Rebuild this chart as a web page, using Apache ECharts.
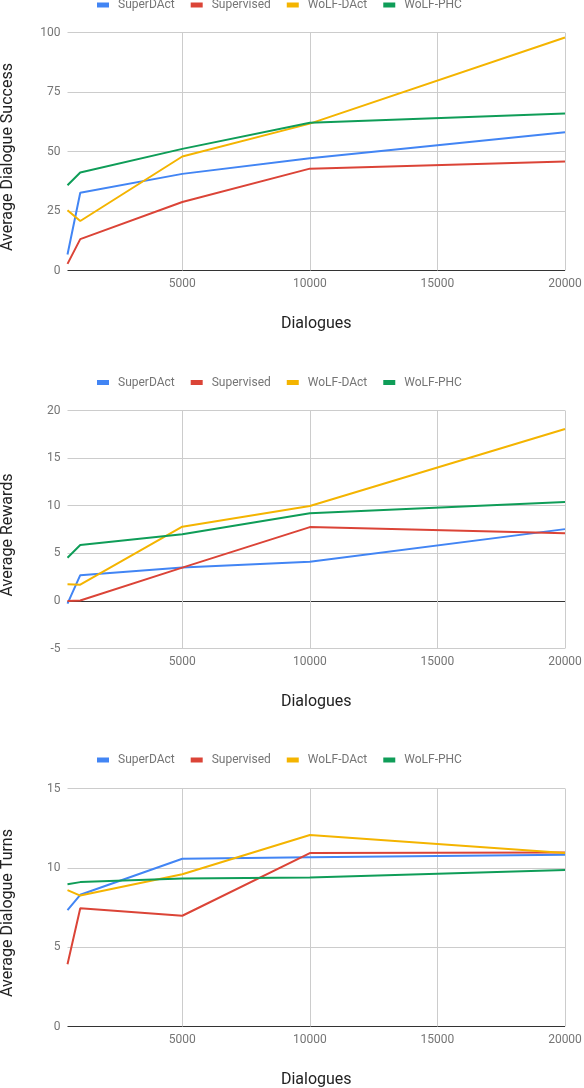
<!DOCTYPE html>
<html>
<head>
<meta charset="utf-8">
<script src="https://cdn.jsdelivr.net/npm/echarts@6/dist/echarts.min.js"></script>
<style>
  html, body { margin: 0; padding: 0; background: #fff; }
  #chart { width: 584px; height: 1088px; }
</style>
</head>
<body>
<div id="chart"></div>
<script>
// x values (number of dialogues)
var dialogues = [500, 1000, 5000, 10000, 20000];
var methods = ['SuperDAct', 'Supervised', 'WoLF-DAct', 'WoLF-PHC'];

// Average Dialogue Success
var successSuperDAct  = [6.7, 32.7, 40.6, 47.2, 58.1];
var successSupervised = [2.8, 13.2, 28.8, 42.8, 45.8];
var successWolfDAct   = [25.3, 20.8, 47.9, 61.7, 97.9];
var successWolfPHC    = [35.8, 41.2, 51.1, 62.1, 66.0];

// Average Rewards
var rewardsSuperDAct  = [-0.28, 2.7, 3.52, 4.12, 7.54];
var rewardsSupervised = [0, 0.05, 3.5, 7.75, 7.1];
var rewardsWolfDAct   = [1.76, 1.7, 7.8, 9.96, 18.06];
var rewardsWolfPHC    = [4.54, 5.88, 7.0, 9.2, 10.39];

// Average Dialogue Turns
var turnsSuperDAct  = [7.34, 8.3, 10.57, 10.67, 10.82];
var turnsSupervised = [3.92, 7.45, 6.98, 10.93, 10.97];
var turnsWolfDAct   = [8.6, 8.25, 9.6, 12.07, 10.93];
var turnsWolfPHC    = [8.97, 9.1, 9.32, 9.39, 9.87];

var colors = ['#4285f4', '#db4437', '#f4b400', '#0f9d58'];
var font = 'Roboto, sans-serif';

var panels = [
  { title: 'Average Dialogue Success', min: 0, max: 100, interval: 25,
    data: [successSuperDAct, successSupervised, successWolfDAct, successWolfPHC] },
  { title: 'Average Rewards', min: -5, max: 20, interval: 5,
    data: [rewardsSuperDAct, rewardsSupervised, rewardsWolfDAct, rewardsWolfPHC] },
  { title: 'Average Dialogue Turns', min: 0, max: 15, interval: 5,
    data: [turnsSuperDAct, turnsSupervised, turnsWolfDAct, turnsWolfPHC] }
];

var gridTops = [32.5, 410.5, 788.5];
var legendTops = [-1, 376.5, 754];

function pairs(xs, ys) {
  var out = [];
  for (var i = 0; i < xs.length; i++) out.push([xs[i], ys[i]]);
  return out;
}

// x ticks every 500 from 500; only every 10th one (5000, 10000...) gets a line
var xLineColors = [];
for (var k = 0; k < 10; k++) xLineColors.push(k === 9 ? '#cccccc' : 'rgba(0,0,0,0)');

var grids = [], xAxes = [], yAxes = [], legends = [], series = [];

panels.forEach(function (p, gi) {
  grids.push({ left: 67.5, right: 19, top: gridTops[gi], height: 238,
               containLabel: false, outerBoundsMode: 'none' });

  legends.push({
    top: legendTops[gi], left: 97, padding: 0,
    itemWidth: 12, itemHeight: 5, itemGap: 16, icon: 'rect',
    textStyle: { color: '#757575', fontSize: 12, fontFamily: font, padding: [0, 0, 0, 4] },
    data: methods
  });

  xAxes.push({
    type: 'value', gridIndex: gi, min: 500, max: 20000, interval: 500,
    name: 'Dialogues', nameLocation: 'middle', nameGap: 45,
    nameTextStyle: { color: '#222', fontSize: 16, fontFamily: font },
    axisLine: { show: false }, axisTick: { show: false },
    axisLabel: {
      color: '#757575', fontSize: 12, fontFamily: font, margin: 7,
      formatter: function (v) { return v % 5000 === 0 ? String(v) : ''; }
    },
    splitLine: { show: true, lineStyle: { color: xLineColors, width: 1 } }
  });

  // dark line at zero, grey for the rest
  var yColors = [];
  var n = Math.round((p.max - p.min) / p.interval) + 1;
  for (var j = 0; j < n; j++) {
    yColors.push(p.min + j * p.interval === 0 ? '#333333' : '#cccccc');
  }

  yAxes.push({
    type: 'value', gridIndex: gi, min: p.min, max: p.max, interval: p.interval,
    name: p.title, nameLocation: 'middle', nameGap: 52,
    // right padding nudges the rotated title a little down
    nameTextStyle: { color: '#222', fontSize: 16, fontFamily: font, padding: [0, 11, 0, 0] },
    axisLine: { show: false }, axisTick: { show: false },
    axisLabel: { color: '#757575', fontSize: 12, fontFamily: font, margin: 7 },
    splitLine: { show: true, lineStyle: { color: yColors, width: 1 } }
  });

  methods.forEach(function (m, si) {
    series.push({
      name: m, type: 'line', xAxisIndex: gi, yAxisIndex: gi,
      showSymbol: false, symbol: 'none', silent: true,
      lineStyle: { width: 2, color: colors[si] },
      itemStyle: { color: colors[si] },
      data: pairs(dialogues, p.data[si])
    });
  });
});

var chart = echarts.init(document.getElementById('chart'));
chart.setOption({
  animation: false,
  color: colors,
  textStyle: { fontFamily: font },
  grid: grids,
  legend: legends,
  xAxis: xAxes,
  yAxis: yAxes,
  series: series
});
</script>
</body>
</html>
